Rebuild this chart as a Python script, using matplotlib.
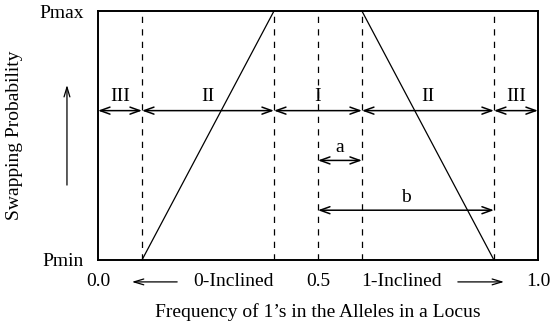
import matplotlib
matplotlib.use('Agg')
import matplotlib.pyplot as plt

# Region boundaries along the frequency axis and their labels.
boundaries = [0.0, 0.1, 0.4, 0.6, 0.9, 1.0]
region_labels = ['III', 'II', 'I', 'II', 'III']
dashed_x = [0.1, 0.4, 0.5, 0.6, 0.9]

# The two ramps of the swapping probability.
left_ramp_x = [0.1, 0.4]
left_ramp_y = [0.0, 1.0]
right_ramp_x = [0.6, 0.9]
right_ramp_y = [1.0, 0.0]

# Spans a and b.
spans = [('a', 0.5, 0.6, 0.40), ('b', 0.5, 0.9, 0.20)]
region_row = 0.6

xtick_values = [0.0, 0.5, 1.0]
xtick_labels = ['0.0', '0.5', '1.0']
ytick_labels = ['Pmin', 'Pmax']

plt.rcParams['font.family'] = ['Liberation Serif', 'DejaVu Serif']
plt.rcParams['font.size'] = 14

fig = plt.figure(figsize=(5.52, 3.25), dpi=100)
ax = fig.add_axes([0.1775, 0.2, 0.797, 0.766])
ax.set_xlim(0, 1)
ax.set_ylim(0, 1)
for s in ax.spines.values():
    s.set_linewidth(1.4)

for x in dashed_x:
    ax.axvline(x, color='black', linestyle=(0, (5, 5)), linewidth=0.9)

ax.plot(left_ramp_x, left_ramp_y, color='black', linewidth=0.9, clip_on=False)
ax.plot(right_ramp_x, right_ramp_y, color='black', linewidth=0.9, clip_on=False)

arrow = dict(arrowstyle='<->,head_length=0.5,head_width=0.18', color='black',
             linewidth=1.1, shrinkA=0, shrinkB=0)

for lo, hi, label in zip(boundaries[:-1], boundaries[1:], region_labels):
    ax.annotate('', xy=(lo, region_row), xytext=(hi, region_row), arrowprops=arrow)
    ax.text((lo + hi) / 2, region_row + 0.056, label, ha='center', va='center')

for label, lo, hi, y in spans:
    ax.annotate('', xy=(lo, y), xytext=(hi, y), arrowprops=arrow)
    ax.text((lo + hi) / 2, y + 0.053, label, ha='center', va='center')

ax.set_xticks([])
ax.set_yticks([0, 1])
ax.set_yticklabels(ytick_labels)
ax.tick_params(axis='y', length=0, pad=10)

label_y = -0.088
for x, lab in zip(xtick_values, xtick_labels):
    ax.text(x, label_y, lab, ha='center', va='center', transform=ax.transAxes)
ax.text(0.308, label_y, '0-Inclined', ha='center', va='center', transform=ax.transAxes)
ax.text(0.691, label_y, '1-Inclined', ha='center', va='center', transform=ax.transAxes)

side = dict(arrowstyle='->,head_length=0.5,head_width=0.15', color='black',
            linewidth=0.9, shrinkA=0, shrinkB=0)
ax.annotate('', xy=(0.077, label_y), xytext=(0.18, label_y),
            xycoords='axes fraction', arrowprops=side, annotation_clip=False)
ax.annotate('', xy=(0.923, label_y), xytext=(0.818, label_y),
            xycoords='axes fraction', arrowprops=side, annotation_clip=False)
ax.annotate('', xy=(-0.0705, 0.703), xytext=(-0.0705, 0.301),
            xycoords='axes fraction', arrowprops=side, annotation_clip=False)

ax.text(0.5, -0.209, "Frequency of 1\u2019s in the Alleles in a Locus",
        ha='center', va='center', transform=ax.transAxes)
ax.text(-0.189, 0.5, 'Swapping Probability', rotation=90,
        ha='center', va='center', transform=ax.transAxes)

fig.savefig('out.png', dpi=100)
